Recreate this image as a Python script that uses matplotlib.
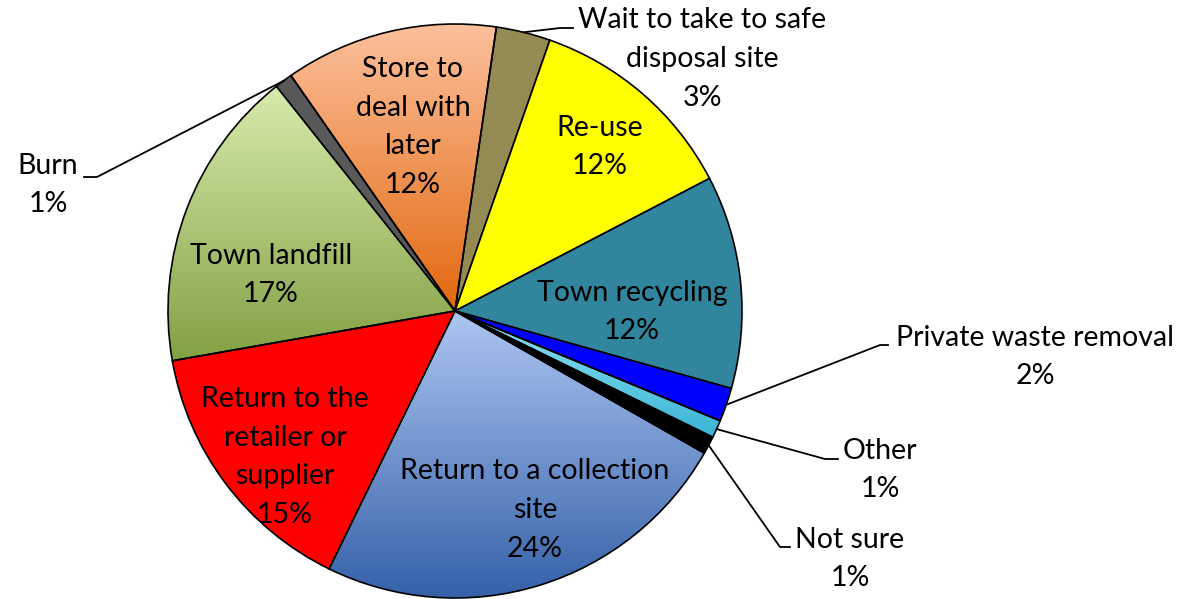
import numpy as np
import matplotlib
matplotlib.use("Agg")
import matplotlib.pyplot as plt
from matplotlib.colors import LinearSegmentedColormap

# slice data, clockwise from the "Wait" slice
categories = ["Wait to take to safe\ndisposal site", "Re-use", "Town recycling",
              "Private waste removal", "Other", "Not sure",
              "Return to a collection\nsite", "Return to the\nretailer or\nsupplier",
              "Town landfill", "Burn", "Store to\ndeal with\nlater"]
shares = [3.06, 12.0, 12.0, 1.9, 1.0, 1.0, 24.0, 15.0, 17.1, 1.0, 12.0]
pct_labels = ["3%", "12%", "12%", "2%", "1%", "1%", "24%", "15%", "17%", "1%", "12%"]

colors = ["#948A54", "#FFFF00", "#31859C", "#0000FF", "#4BC3E0", "#000000",
          "#7F9DD6", "#FF0000", "#A8C47A", "#595959", "#F29A62"]
# vertical gradients (top colour, bottom colour) for some slices
gradients = {
    4: ("#8FE3F3", "#3AB5D6"),
    6: ("#ADC6F2", "#3561A8"),
    8: ("#D7EBAC", "#82A043"),
    10: ("#FCC09C", "#E2680E"),
}

W, H = 1192, 599
cx, cy, R = 455, H - 311, 287

fig = plt.figure(figsize=(W / 100, H / 100), dpi=100)
ax = fig.add_axes([0, 0, 1, 1])
ax.set_xlim(0, W)
ax.set_ylim(0, H)
ax.set_aspect("equal")
ax.axis("off")

wedges, _ = ax.pie(shares, colors=colors, center=(cx, cy), radius=R,
                   startangle=90 - 8.3, counterclock=False, frame=False,
                   wedgeprops=dict(edgecolor="black", linewidth=1.2))
ax.set_xlim(0, W)
ax.set_ylim(0, H)

for i, (c_top, c_bot) in gradients.items():
    w = wedges[i]
    ext = w.get_path().get_extents()
    cmap = LinearSegmentedColormap.from_list("g%d" % i, [c_top, c_bot])
    grad = np.linspace(0, 1, 256).reshape(-1, 1)
    im = ax.imshow(grad, cmap=cmap, aspect="auto", origin="upper",
                   extent=(ext.x0, ext.x1, ext.y0, ext.y1), zorder=w.get_zorder() - 0.1,
                   interpolation="bilinear")
    im.set_clip_path(w)
    w.set_facecolor("none")

font = dict(family=["Lato", "DejaVu Sans"], fontsize=20.5, color="black",
            ha="center", va="center", linespacing=1.6)

# labels inside slices: (index, x, y in image pixels)
inside = [(1, 600, 147), (2, 632, 312), (6, 535, 510), (7, 285, 457),
          (8, 271, 275), (10, 413, 127)]
for i, x, y in inside:
    ax.text(x, H - y, categories[i] + "\n" + pct_labels[i], **font)

# outside labels with leader lines: (index, text x, text y, elbow, line end)
outside = [
    (0, 702, 59, (560, 28), (573, 28)),
    (3, 1035, 357, (880, 345), (888, 345)),
    (4, 880, 470, (825, 459), (838, 459)),
    (5, 850, 559, (780, 547), (790, 547)),
    (9, 48, 185, (97, 177), (84, 177)),
]
for i, tx, ty, elbow, end in outside:
    w = wedges[i]
    mid = np.deg2rad((w.theta1 + w.theta2) / 2)
    sx, sy = cx + R * np.cos(mid), cy + R * np.sin(mid)
    ax.plot([sx, elbow[0], end[0]], [sy, H - elbow[1], H - end[1]],
            color="black", linewidth=1.3, zorder=5)
    ax.text(tx, H - ty, categories[i] + "\n" + pct_labels[i], **font)

fig.savefig("out.png", dpi=100)
